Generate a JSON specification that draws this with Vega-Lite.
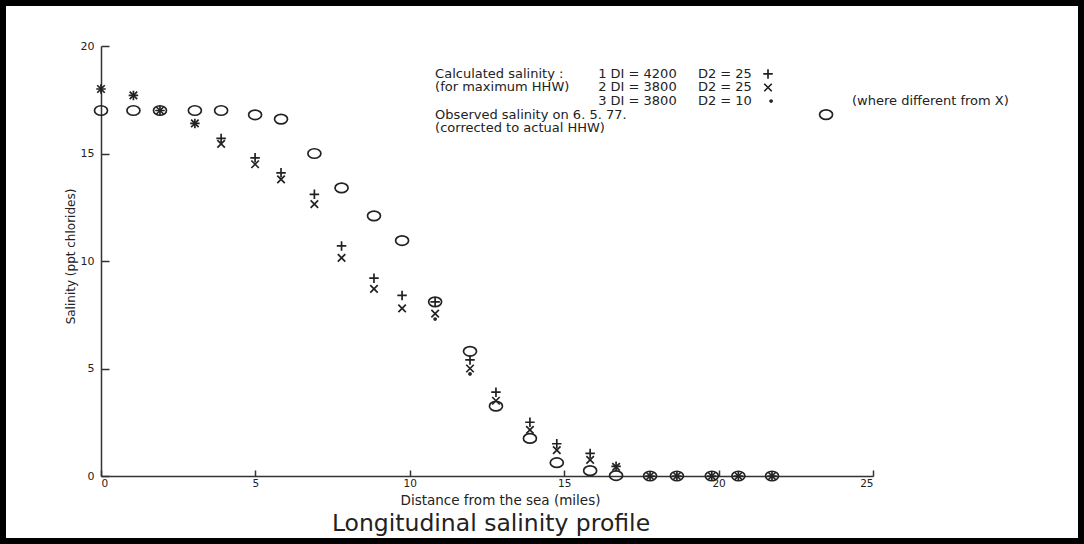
{
  "$schema": "https://vega.github.io/schema/vega-lite/v6.json",
  "width": 1084,
  "height": 544,
  "autosize": {"type": "none"},
  "padding": 0,
  "background": "white",
  "config": {
    "view": {"stroke": "black", "strokeWidth": 12, "fill": "white"},
    "font": "DejaVu Sans",
    "axis": {
      "grid": false,
      "domainColor": "#333",
      "domainWidth": 1.5,
      "tickColor": "#333",
      "tickWidth": 1.5,
      "labelColor": "#222",
      "labelFont": "DejaVu Sans",
      "labelFontSize": 11,
      "titleColor": "#222",
      "titleFont": "DejaVu Sans",
      "titleFontWeight": "normal"
    }
  },
  "title": {
    "text": "Longitudinal salinity profile",
    "orient": "bottom",
    "anchor": "middle",
    "offset": -13,
    "baseline": "alphabetic",
    "dx": -51,
    "font": "DejaVu Sans",
    "fontSize": 23.5,
    "fontWeight": "normal",
    "color": "#222"
  },
  "datasets": {
    "pts": [
      {"mile": 0, "sal": 18.0, "series": "Calc 1"},
      {"mile": 1.05, "sal": 17.7, "series": "Calc 1"},
      {"mile": 1.91, "sal": 17.0, "series": "Calc 1"},
      {"mile": 3.04, "sal": 16.4, "series": "Calc 1"},
      {"mile": 3.89, "sal": 15.7, "series": "Calc 1"},
      {"mile": 4.99, "sal": 14.8, "series": "Calc 1"},
      {"mile": 5.83, "sal": 14.1, "series": "Calc 1"},
      {"mile": 6.91, "sal": 13.1, "series": "Calc 1"},
      {"mile": 7.79, "sal": 10.7, "series": "Calc 1"},
      {"mile": 8.84, "sal": 9.2, "series": "Calc 1"},
      {"mile": 9.75, "sal": 8.4, "series": "Calc 1"},
      {"mile": 10.82, "sal": 8.1, "series": "Calc 1"},
      {"mile": 11.95, "sal": 5.4, "series": "Calc 1"},
      {"mile": 12.79, "sal": 3.9, "series": "Calc 1"},
      {"mile": 13.89, "sal": 2.5, "series": "Calc 1"},
      {"mile": 14.76, "sal": 1.5, "series": "Calc 1"},
      {"mile": 15.84, "sal": 1.05, "series": "Calc 1"},
      {"mile": 16.68, "sal": 0.45, "series": "Calc 1"},
      {"mile": 17.78, "sal": 0, "series": "Calc 1"},
      {"mile": 18.65, "sal": 0, "series": "Calc 1"},
      {"mile": 19.78, "sal": 0, "series": "Calc 1"},
      {"mile": 20.64, "sal": 0, "series": "Calc 1"},
      {"mile": 21.73, "sal": 0, "series": "Calc 1"},
      {"mile": 0, "sal": 18.0, "series": "Calc 2"},
      {"mile": 1.05, "sal": 17.7, "series": "Calc 2"},
      {"mile": 1.91, "sal": 17.0, "series": "Calc 2"},
      {"mile": 3.04, "sal": 16.4, "series": "Calc 2"},
      {"mile": 3.89, "sal": 15.45, "series": "Calc 2"},
      {"mile": 4.99, "sal": 14.5, "series": "Calc 2"},
      {"mile": 5.83, "sal": 13.8, "series": "Calc 2"},
      {"mile": 6.91, "sal": 12.65, "series": "Calc 2"},
      {"mile": 7.79, "sal": 10.15, "series": "Calc 2"},
      {"mile": 8.84, "sal": 8.7, "series": "Calc 2"},
      {"mile": 9.75, "sal": 7.8, "series": "Calc 2"},
      {"mile": 10.82, "sal": 7.55, "series": "Calc 2"},
      {"mile": 11.95, "sal": 5.0, "series": "Calc 2"},
      {"mile": 12.79, "sal": 3.5, "series": "Calc 2"},
      {"mile": 13.89, "sal": 2.15, "series": "Calc 2"},
      {"mile": 14.76, "sal": 1.2, "series": "Calc 2"},
      {"mile": 15.84, "sal": 0.75, "series": "Calc 2"},
      {"mile": 16.68, "sal": 0.42, "series": "Calc 2"},
      {"mile": 17.78, "sal": 0, "series": "Calc 2"},
      {"mile": 18.65, "sal": 0, "series": "Calc 2"},
      {"mile": 19.78, "sal": 0, "series": "Calc 2"},
      {"mile": 20.64, "sal": 0, "series": "Calc 2"},
      {"mile": 21.73, "sal": 0, "series": "Calc 2"},
      {"mile": 10.82, "sal": 7.3, "series": "Calc 3"},
      {"mile": 11.95, "sal": 4.75, "series": "Calc 3"},
      {"mile": 0, "sal": 17.0, "series": "Observed"},
      {"mile": 1.05, "sal": 17.0, "series": "Observed"},
      {"mile": 1.91, "sal": 17.0, "series": "Observed"},
      {"mile": 3.04, "sal": 17.0, "series": "Observed"},
      {"mile": 3.89, "sal": 17.0, "series": "Observed"},
      {"mile": 4.99, "sal": 16.8, "series": "Observed"},
      {"mile": 5.83, "sal": 16.6, "series": "Observed"},
      {"mile": 6.91, "sal": 15.0, "series": "Observed"},
      {"mile": 7.79, "sal": 13.4, "series": "Observed"},
      {"mile": 8.84, "sal": 12.1, "series": "Observed"},
      {"mile": 9.75, "sal": 10.95, "series": "Observed"},
      {"mile": 10.82, "sal": 8.1, "series": "Observed"},
      {"mile": 11.95, "sal": 5.8, "series": "Observed"},
      {"mile": 12.79, "sal": 3.25, "series": "Observed"},
      {"mile": 13.89, "sal": 1.75, "series": "Observed"},
      {"mile": 14.76, "sal": 0.62, "series": "Observed"},
      {"mile": 15.84, "sal": 0.25, "series": "Observed"},
      {"mile": 16.68, "sal": 0.02, "series": "Observed"},
      {"mile": 17.78, "sal": 0, "series": "Observed"},
      {"mile": 18.65, "sal": 0, "series": "Observed"},
      {"mile": 19.78, "sal": 0, "series": "Observed"},
      {"mile": 20.64, "sal": 0, "series": "Observed"},
      {"mile": 21.73, "sal": 0, "series": "Observed"}
    ],
    "legendSym": [
      {"mile": 21.6, "sal": 18.70, "series": "Calc 1"},
      {"mile": 21.6, "sal": 18.07, "series": "Calc 2"},
      {"mile": 21.7, "sal": 17.44, "series": "Calc 3"},
      {"mile": 23.48, "sal": 16.81, "series": "Observed"}
    ],
    "legendText": [
      {"mile": 10.82, "sal": 18.70, "txt": "Calculated salinity :"},
      {"mile": 16.1, "sal": 18.70, "txt": "1 DI = 4200"},
      {"mile": 19.33, "sal": 18.70, "txt": "D2 = 25"},
      {"mile": 10.82, "sal": 18.07, "txt": "(for maximum HHW)"},
      {"mile": 16.1, "sal": 18.07, "txt": "2 DI = 3800"},
      {"mile": 19.33, "sal": 18.07, "txt": "D2 = 25"},
      {"mile": 16.1, "sal": 17.44, "txt": "3 DI = 3800"},
      {"mile": 19.33, "sal": 17.44, "txt": "D2 = 10"},
      {"mile": 24.32, "sal": 17.44, "txt": "(where different from X)"},
      {"mile": 10.82, "sal": 16.81, "txt": "Observed salinity on 6. 5. 77."},
      {"mile": 10.82, "sal": 16.19, "txt": "(corrected to actual HHW)"}
    ]
  },
  "layer": [
    {
      "data": {"name": "pts"},
      "mark": {"type": "point", "filled": false, "strokeWidth": 1.7, "size": 100, "color": "#222", "opacity": 1},
      "encoding": {
        "x": {
          "field": "mile", "type": "quantitative",
          "scale": {"domain": [0, 25], "range": [101, 873], "nice": false, "zero": false},
          "axis": {
            "values": [0, 5, 10, 15, 20, 25],
            "offset": -68,
            "tickSize": -6,
            "labelPadding": 8,
            "labelFontSize": 10.5,
            "title": "Distance from the sea (miles)",
            "titleFontSize": 13.5,
            "titleX": 500,
            "titleY": 24,
            "titleAlign": "center",
            "titleBaseline": "middle"
          }
        },
        "y": {
          "field": "sal", "type": "quantitative",
          "scale": {"domain": [0, 20], "range": [476, 46], "nice": false, "zero": false},
          "axis": {
            "values": [0, 5, 10, 15, 20],
            "offset": -101,
            "tickSize": -8,
            "labelPadding": 15,
            "title": "Salinity (ppt chlorides)",
            "titleFontSize": 12,
            "titleX": -31,
            "titleY": 256,
            "titleAlign": "center",
            "titleBaseline": "middle",
            "titleAngle": -90
          }
        },
        "shape": {
          "field": "series", "type": "nominal", "legend": null,
          "scale": {
            "domain": ["Calc 1", "Calc 2", "Calc 3", "Observed"],
            "range": [
              "M-0.95,0L0.95,0M0,-0.95L0,0.95",
              "M-0.75,-0.75L0.75,0.75M-0.75,0.75L0.75,-0.75",
              "M-0.2,0A0.2,0.2 0 1,1 0.2,0A0.2,0.2 0 1,1 -0.2,0Z",
              "M-1.3,0A1.3,0.95 0 1,1 1.3,0A1.3,0.95 0 1,1 -1.3,0Z"
            ]
          }
        }
      }
    },
    {
      "data": {"name": "legendSym"},
      "mark": {"type": "point", "filled": false, "strokeWidth": 1.7, "size": 100, "color": "#222", "opacity": 1},
      "encoding": {
        "x": {"field": "mile", "type": "quantitative"},
        "y": {"field": "sal", "type": "quantitative"},
        "shape": {"field": "series", "type": "nominal", "legend": null}
      }
    },
    {
      "data": {"name": "legendText"},
      "mark": {"type": "text", "align": "left", "baseline": "middle", "font": "DejaVu Sans", "fontSize": 13, "color": "#222"},
      "encoding": {
        "x": {"field": "mile", "type": "quantitative"},
        "y": {"field": "sal", "type": "quantitative"},
        "text": {"field": "txt", "type": "nominal"}
      }
    }
  ]
}
